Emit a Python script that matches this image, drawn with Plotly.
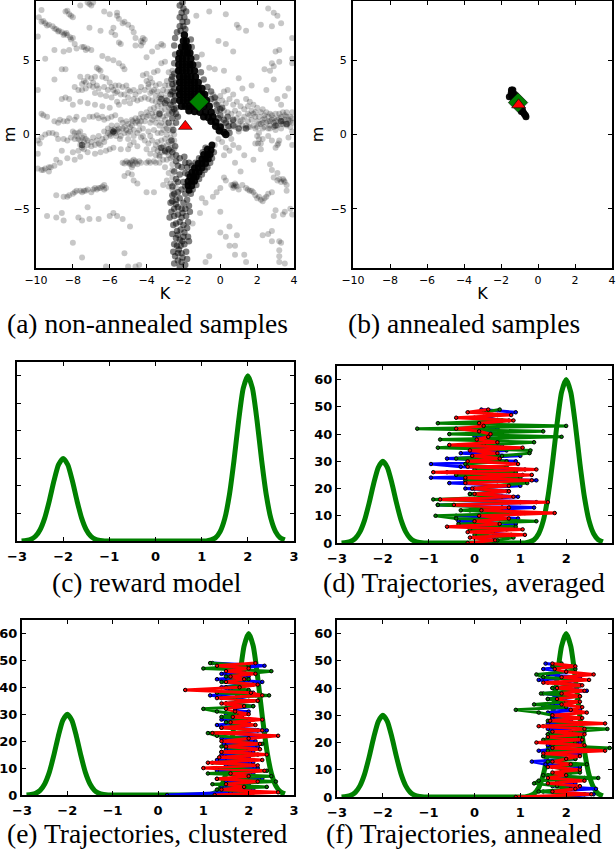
import plotly.graph_objects as go

# ---------- panel (a): sample clouds (K, m) ----------
chain_upper_left = [(-9.85,7.9),(-9.7,7.6),(-9.5,7.5),(-9.3,7.4),(-9.1,7.3),(-8.9,7.1),(-8.75,7.0),(-8.6,6.9),(-8.45,6.8),(-8.3,6.7),
 (-8.15,6.55),(-8.0,6.5),(-7.9,6.1),(-7.8,5.8),(-7.4,5.9),(-7.2,5.8),(-7.0,5.7),(-9.7,8.4),(-8.4,8.3),(-8.2,8.1),(-8.0,7.9),(-7.6,8.7),(-7.2,8.9),(-7.0,8.7),
 (-6.3,8.3),(-6.0,8.1),(-5.6,8.0),(-5.5,7.8),(-5.3,7.5),(-5.0,7.4),(-4.8,7.2),(-5.8,7.2),(-6.5,7.0),(-7.1,7.2),(-9.6,7.65),(-9.4,7.35),(-9.0,7.15),(-8.8,6.95),(-8.5,6.7),(-8.35,6.85),(-8.1,6.4),
 (-8.3,8.35),(-8.1,8.0),(-7.1,8.8),(-6.9,8.9),(-5.6,8.2),(-5.2,7.6),(-4.7,6.9),(-4.6,6.5),(-4.1,6.4),(-4.2,6.2),(-7.5,5.9),(-7.3,5.7),(-5.9,6.9),(-5.7,6.7),(-5.5,6.2),(-5.4,6.1)]
band_upper = [(-8.6,4.4),(-8.4,4.4),(-7.6,3.9),(-7.4,3.6),(-7.2,3.9),(-7.0,3.8),(-6.9,3.5),(-6.7,3.3),(-6.6,4.4),(-6.5,4.3),(-6.4,3.9),(-6.2,3.8),
 (-6.0,3.5),(-5.9,3.2),(-5.7,3.3),(-5.6,2.9),(-5.5,3.3),(-5.3,3.2),(-5.1,3.3),(-5.0,3.0),(-4.9,2.9),(-4.7,3.0),(-4.6,2.7),(-4.4,2.9),(-4.3,3.2),(-4.1,3.0),
 (-3.9,3.4),(-3.8,2.8),(-3.6,3.0),(-3.4,2.9),(-3.3,2.5),(-3.1,3.0),(-2.9,2.9),(-2.8,3.3),(-7.7,3.0),(-7.5,3.0),(-7.3,3.1),(-6.8,2.8),(-6.5,2.7),(-6.2,2.6),
 (-5.9,2.5),(-5.6,2.2),(-5.2,2.2),(-4.9,2.1),(-8.6,2.4),(-8.4,2.5),(-8.2,2.4),(-8.0,2.0),(-7.6,2.2),(-7.2,2.1),(-6.8,2.0),(-6.4,1.9),(-6.0,1.8),(-5.5,2.0),
 (-4.2,4.0),(-4.0,4.1),(-3.8,3.8),(-3.6,4.2),(-3.4,4.3),(-3.2,4.8),(-3.0,4.9),(-2.8,4.2),(-2.6,4.3),(-4.0,5.2),(-3.7,5.6),(-3.4,5.9),(-4.2,6.5),(-4.3,6.3),(-3.1,6.0),(-3.2,6.1),
 (-4.0,3.6),(-3.9,3.2),(-3.7,3.5),(-3.7,2.9),(-3.5,2.6),(-3.5,3.3),(-3.3,3.4),(-3.2,2.7),(-3.0,2.5),(-3.0,3.3),(-2.9,3.6),(-2.7,2.9),(-2.6,2.7),(-2.6,3.3),(-3.3,2.2),(-3.5,2.2),(-3.7,2.3),(-3.9,2.4),
 (-4.1,2.5),(-4.3,2.4),(-4.5,2.3),(-4.7,2.4),(-5.0,2.5),(-5.2,2.7),(-5.4,2.7),(-5.7,2.8),(-5.8,3.0),(-6.1,3.0),(-6.3,3.2),(-6.6,3.1),(-6.9,3.2),(-7.1,3.3),(-7.3,3.5),(-7.5,3.4),(-6.7,4.5),(-6.8,3.9)]
band_middle = [(-9.9,-0.4),(-9.8,-0.6),(-9.7,-0.2),(-9.1,0.1),(-8.9,0.0),(-8.8,-0.3),(-8.0,0.2),(-7.9,0.1),(-7.8,-0.1),(-7.7,-0.3),(-7.6,0.2),(-7.6,-0.7),(-7.5,-0.9),
 (-7.4,-0.5),(-7.3,-0.3),(-7.2,-0.7),(-7.0,-0.5),(-6.8,-0.7),(-6.6,-0.6),(-6.4,-0.3),(-6.2,-0.2),(-6.0,0.0),(-5.9,0.3),(-5.8,0.2),(-5.7,0.1),(-5.6,0.3),(-5.5,0.2),
 (-5.4,-0.1),(-5.3,0.4),(-5.2,0.5),(-5.0,0.1),(-4.9,0.5),(-4.8,0.6),(-4.6,0.8),(-4.5,0.9),(-4.4,1.1),(-4.2,1.2),(-4.0,1.5),(-3.8,1.7),(-3.6,1.8),(-3.4,1.9),(-3.2,2.0),
 (-3.0,1.7),(-2.8,1.4),(-9.7,1.4),(-9.6,1.3),(-9.4,1.2),(-9.0,0.9),(-8.8,0.8),(-8.5,0.9),(-8.2,1.1),(-7.8,1.2),(-7.4,1.0),(-7.1,1.2),(-6.9,1.2),(-6.6,1.1),(-6.3,1.0),
 (-5.9,1.2),(-5.4,1.0),(-5.1,0.9),(-4.8,1.0),(-3.7,1.0),(-3.5,0.8),(-3.3,0.6),(-3.1,0.3),(-2.9,0.0),(-2.7,-0.2),(-4.3,-0.2),(-4.1,-0.4),(-3.9,-0.6),(-3.7,-0.4),
 (-3.5,-0.7),(-3.3,-0.9),(-3.1,-0.8),(-2.9,-0.7),(-2.7,-0.9),(-2.5,-1.0),(-5.0,-0.3),(-4.7,-0.5),(-6.8,-1.3),(-7.2,-1.2),(-8.0,-1.2),(-8.3,-1.6),(-8.7,-1.9),(-9.0,-2.1),
 (-9.3,-2.2),(-9.6,-2.4),(-9.3,-2.5),(-5.8,-0.9),(-5.4,-1.0),(-5.0,-1.0),(-7.6,-1.5),(-7.9,-1.7),
 (-7.9,-0.3),(-7.7,0.1),(-7.5,-0.2),(-7.6,-0.4),(-7.4,-0.1),(-7.2,-0.4),(-7.0,-0.8),(-6.7,-0.4),(-6.5,-0.7),(-6.3,-0.5),(-6.1,0.1),(-5.95,-0.1),(-5.85,0.1),(-5.75,0.35),(-5.65,-0.1),(-5.5,0.4),(-5.45,-0.3),
 (-5.2,0.1),(-5.1,0.3),(-4.9,0.2),(-4.75,0.9),(-4.7,0.3),(-4.6,1.1),(-4.4,0.7),(-4.3,0.9),(-4.3,1.4),(-4.1,0.9),(-4.0,1.2),(-3.9,1.3),(-3.8,0.8),(-3.7,1.4),(-3.6,1.2),(-3.5,1.5),(-3.4,1.1),(-3.3,1.3),(-3.2,1.6),(-3.1,1.2),(-3.0,1.0),
 (-2.9,1.3),(-2.8,1.8),(-2.7,1.6),(-2.6,1.8),(-3.2,0.8),(-3.0,0.6),(-2.8,0.3),(-2.6,0.2),(-3.4,-0.5),(-3.2,-0.4),(-3.0,-0.3),(-2.8,-0.5),(-2.6,-0.6),(-3.6,-1.0),(-3.4,-1.1),(-3.2,-1.2),(-2.9,-1.2),(-4.5,-0.8),(-4.9,-0.7),(-4.4,0.3),(-4.2,0.4),(-3.9,0.2),(-3.6,0.3),
 (-8.7,1.0),(-8.3,0.9),(-7.9,1.0),(-6.7,1.3),(-6.4,1.2),(-6.1,1.1),(-5.7,1.3),(-9.5,0.0),(-9.3,0.1),(-8.5,-0.3),(-8.3,-0.4),(-8.1,-0.2),(-8.6,-1.1),(-8.9,-1.7),(-7.7,-1.1),(-7.4,-1.0),(-6.5,-1.2),(-6.2,-1.1),(-6.0,-1.0),(-9.9,-2.3),(-9.5,-2.3),
 (-6.9,-0.2),(-6.6,-0.1),(-6.3,0.2),(-6.1,0.4),(-5.9,0.6),(-5.6,0.6),(-5.3,0.8),(-5.0,0.7),(-4.7,-0.1),(-4.5,0.1),(-4.2,-0.1),(-3.8,-0.1),(-3.4,0.1),(-3.2,0.1),(-2.9,0.4),(-2.6,0.6),(-2.5,0.0),(-2.5,-0.4),(-3.3,-1.5),(-3.5,-1.4),(-3.8,-1.3),(-4.0,-1.0),(-2.6,-1.5),(-2.7,-1.1)]
chain_lower_left = [(-8.9,-4.1),(-8.5,-4.2),(-8.2,-4.1),(-8.0,-4.0),(-7.8,-3.8),(-7.6,-3.8),(-7.4,-3.8),(-7.2,-3.7),(-7.0,-3.9),(-6.8,-3.6),(-6.6,-3.6),(-6.4,-3.5),(-6.2,-3.6),
 (-8.6,-5.3),(-8.9,-5.6),(-9.4,-5.5),(-8.5,-5.8),(-7.5,-5.8),(-7.1,-5.7),(-6.6,-5.7),(-6.0,-5.5),(-5.8,-5.3),(-5.6,-5.5),(-7.7,-5.6),(-5.2,-2.8),(-5.0,-2.6),(-4.8,-2.7),(-4.7,-3.1),(-4.5,-3.3),(-4.0,-3.9),
 (-7.5,-3.9),(-7.3,-3.8),(-6.9,-3.7),(-6.7,-3.7),(-6.5,-3.6),(-6.3,-3.7),(-6.3,-3.4),(-7.9,-3.9),(-8.3,-4.2)]
chain_mid_left = [(-5.3,-1.9),(-5.1,-1.8),(-4.9,-1.9),(-4.8,-2.2),(-4.7,-1.7),(-4.6,-1.9),(-4.4,-1.8),(-4.3,-1.9),(-4.0,-1.9),(-3.8,-1.9),(-3.6,-1.8),(-3.3,-1.9),(-3.1,-1.7),(-2.9,-1.7),
 (-2.7,-1.6),(-3.0,-2.2),(-2.8,-2.6),(-2.6,-2.9),(-2.5,-3.3),(-2.4,-3.6),(-2.9,-3.1),(-3.1,-3.4),(-3.6,-3.9),(-3.3,-1.4),(-3.0,-1.2),(-2.8,-1.4),
 (-5.2,-1.95),(-5.0,-1.9),(-4.9,-2.0),(-4.8,-1.8),(-4.75,-2.05),(-4.6,-1.8),(-4.5,-2.0),(-3.9,-1.8),(-3.5,-1.9),(-2.6,-2.0),(-2.6,-2.4),(-2.7,-3.3),(-2.6,-3.7),(-2.8,-3.5)]
band_right = [(-0.2,2.4),(0.0,2.6),(0.2,2.9),(0.4,3.0),(0.7,2.7),(1.2,3.1),(1.4,2.4),(1.6,2.2),(1.8,2.0),(2.0,1.8),(2.2,1.5),(2.4,1.3),(2.6,1.2),(2.8,1.0),(3.0,1.4),(3.2,1.1),(3.4,1.5),
 (3.6,1.2),(3.8,0.9),(3.9,1.5),(1.0,0.7),(1.2,0.6),(1.4,0.6),(1.6,0.5),(1.8,0.6),(2.0,0.5),(2.2,0.7),(2.4,0.5),(2.6,0.4),(2.7,0.6),(2.9,0.5),(3.1,0.6),(3.3,0.4),(3.6,0.6),(3.8,0.5),
 (2.0,0.9),(2.1,0.1),(2.1,-0.3),(2.2,-0.6),(2.2,-1.0),(1.2,1.0),(1.5,1.4),(1.9,1.2),(2.3,1.0),(2.7,1.4),(3.1,2.4),(3.3,2.0),(3.5,2.6),(3.7,3.1),(2.5,3.0),(2.7,4.3),(2.9,4.6),(2.8,4.8),
 (3.2,4.9),(3.9,4.8),(3.9,5.1),(2.4,4.4),(2.9,3.7),(0.7,-0.7),(1.0,-0.9),(0.5,-1.1),(0.2,-1.4),(1.3,-1.4),(1.8,-1.7),(2.7,-2.0),(2.8,-2.4),(3.1,-2.6),(3.9,-0.7),(3.1,-0.7),(2.8,-0.4),
 (3.7,-0.2),(3.2,-0.4),(-0.1,-0.3),(0.1,-0.5),(-0.3,-0.7),
 (-0.4,2.7),(-0.3,2.2),(-0.1,2.0),(0.1,2.3),(0.3,2.1),(0.5,2.4),(0.7,2.0),(0.9,2.2),(1.1,1.9),(1.3,1.7),(1.5,1.9),(1.7,1.6),(1.9,1.5),(2.1,1.2),(2.3,1.7),(2.5,1.5),(2.6,0.9),(2.8,1.3),(3.0,0.9),(3.2,1.4),(3.4,0.9),(3.6,1.5),(3.8,1.2),(3.95,0.8),
 (0.5,0.8),(0.7,0.9),(0.9,1.1),(1.1,0.9),(1.3,1.2),(1.5,0.9),(1.7,1.0),(2.1,0.7),(2.3,0.8),(2.5,0.8),(2.7,0.9),(2.9,0.8),(3.1,1.0),(3.3,0.7),(3.5,1.0),(3.7,0.8),(3.9,1.1),(1.3,0.4),(1.5,0.5),(1.9,0.4),(2.3,0.4),(2.7,0.4),(3.0,0.3),(3.4,0.7),(3.9,0.2),
 (2.0,-0.1),(2.05,-0.6),(2.3,-0.3),(1.9,-0.6),(2.6,-0.1),(3.0,-0.9),(3.15,-0.6),
 (0.4,1.5),(0.6,1.4),(0.8,1.6),(1.0,1.4),(0.2,1.6),(0.0,0.9),(0.2,0.6),(0.5,0.4),(0.8,0.5),(1.0,0.2),(0.6,-0.3),(0.3,-0.9),(1.6,1.3),(1.8,1.4),(2.4,1.1),(2.9,1.1),(3.3,1.2),(3.5,1.3),(3.7,1.0)]
chain_lower_right = [(0.6,-3.4),(0.7,-3.6),(0.8,-3.3),(0.9,-3.5),(1.0,-3.7),(1.2,-3.4),(1.4,-3.6),(1.6,-3.8),(1.8,-3.9),(2.0,-4.3),(2.2,-4.4),(2.4,-4.3),(2.6,-4.0),(2.8,-3.9),
 (3.1,-3.1),(3.3,-3.2),(3.5,-3.2),(3.6,-3.8),(2.9,-2.9),(3.4,-3.0),(0.3,-3.1),(0.2,-2.9),(3.0,-5.1),(2.9,-5.5),(3.5,-5.2),(3.8,-5.0),(3.9,-5.4),(3.4,-5.4),(2.8,-6.5),(2.6,-6.7),(2.3,-6.8),
 (2.8,-7.2),(3.2,-7.2),(3.3,-7.3),(3.2,-7.8),(3.2,-8.2),(3.2,-8.6),(3.5,-8.7),(0.0,-6.6),(0.3,-6.9),(0.5,-6.2),(0.5,-7.5),(0.8,-7.5),(0.9,-6.8),(0.8,-8.1),(1.3,-8.1),(1.4,-8.6),(-0.8,-8.6),(-0.6,-8.2),
 (0.7,-3.4),(0.75,-3.5),(0.85,-3.4),(1.5,-3.7),(1.7,-3.8),(1.9,-4.1),(2.1,-4.2),(2.3,-4.5),(2.5,-4.2),(3.2,-3.0),(3.45,-3.1),(3.6,-3.4)]
scattered = [(-1.3,8.0),(-0.6,8.3),(0.3,8.1),(0.9,7.4),(1.0,7.2),(1.4,7.0),(2.2,7.4),(2.6,8.5),(2.9,8.2),(3.1,8.0),(2.8,7.3),(3.3,7.5),(3.9,6.5),(3.2,5.7),(3.0,5.6),(-0.1,6.3),(0.3,6.1),(0.7,5.6),
 (-1.0,5.4),(-0.6,4.5),(-0.3,4.4),(0.2,4.3),(1.0,3.8),(1.7,3.3),(-9.9,6.6),(-9.5,5.1),(-9.0,5.7),(-8.5,5.6),(-8.2,5.7),(-6.4,5.3),(-6.1,5.1),(-5.8,5.0),(-5.5,4.8),(-5.3,4.6),(-5.2,4.4),
 (-4.6,6.0),(-4.3,6.0),(-9.9,3.0),(-9.0,3.7),(-7.9,3.2),(-9.9,-1.3),(-9.7,-2.4),(-9.2,-2.2),(-4.9,-6.2),(-5.3,-5.7),(-8.0,-7.3),(-7.5,-8.3),(-5.2,-8.0),(-5.0,-8.9),(-4.6,-8.9),(-4.4,-8.8),
 (-6.2,-8.9),(-7.2,-4.9),(-1.0,-4.3),(-0.8,-4.6),(-0.4,-4.2),(-0.2,-3.9),(0.0,-3.6),(0.8,-1.9),(1.1,-2.5),(-1.1,-5.3),(-1.5,-6.0),(0.0,-5.2)]
halo_mid = [(-2.05,8.9),(-2.0,8.5),(-2.1,8.2),(-1.95,7.9),(-2.05,7.6),(-2.0,7.3),(-1.9,7.1),(-2.15,7.0),(-2.3,4.3),(-2.5,4.1),(-2.6,3.9),(-2.4,3.5),(-2.5,3.1),(-2.7,2.7),(-2.9,2.3),(-2.5,2.3),
 (-3.2,2.4),(-3.0,2.1),(-2.7,2.0),(-2.4,1.8),(-3.3,1.4),(-2.6,1.1),(-2.8,0.8),(-2.4,0.8),(-0.5,2.4),(-0.2,2.0),(0.1,1.8),(0.0,1.3),(0.4,1.2),(0.7,1.0),(0.3,0.8),(0.7,0.6),(1.0,0.4),(1.4,0.4),
 (3.0,0.6),(3.6,0.7),(3.3,0.9),(-7.5,-0.7),(-5.8,0.2),(-3.2,-0.9),(-3.0,-1.1),(-2.8,-1.0),(-2.6,-1.2),(-2.4,-1.4),(-2.4,-1.8),(-2.2,-1.6),(-2.3,-2.1),(-2.1,-2.2),(-2.2,-2.7),(-1.9,-1.9),(-2.3,-3.2),
 (-2.0,-3.2),(-2.5,-4.0),(-2.3,-3.9),(-2.1,-3.7),(-1.9,-4.0),(-2.6,-4.5),(-2.4,-4.4),(-2.2,-4.3),(-2.0,-4.6),(-1.8,-4.4),(-2.5,-5.0),(-2.3,-4.9),(-2.1,-5.0),(-1.9,-5.0),(-2.5,-5.5),(-2.3,-5.4),
 (-2.1,-5.6),(-1.85,-5.5),(-2.4,-6.0),(-2.2,-5.9),(-2.0,-6.1),(-2.35,-6.5),(-2.15,-6.4),(-1.95,-6.6),(-2.4,-7.0),(-2.2,-7.1),(-2.0,-6.9),(-2.35,-7.5),(-2.15,-7.5),(-1.95,-7.4),(-2.3,-8.0),(-2.1,-8.0),
 (-2.3,-8.5),(-2.1,-8.6),(-2.2,-8.9),(-1.9,-8.8),(-2.2,8.7),(-1.85,8.3),(-2.2,7.9),(-1.8,7.6),(-2.2,7.3),(-2.5,4.8),(-2.45,5.4),(-2.6,3.4),(-2.3,2.9),(-2.4,1.4),(-2.3,1.2),(-2.6,1.5),
 (-2.5,-2.5),(-2.4,-3.0),(-2.6,-3.5),(-1.9,-2.6),(-1.9,-3.5),(-2.55,-6.1),(-1.8,-6.3),(-2.5,-7.4),(-1.85,-7.9),(-2.45,-8.2),(-1.75,-5.9),(-2.4,-4.7),(-2.65,-5.2),
 (-1.95,-1.5),(-1.8,-2.2),(-1.75,-2.7),(-1.7,-1.9),(-1.55,-2.1),(-1.6,-4.0),(-1.5,-3.7),(-1.3,-3.4),(-1.15,-3.0),(-1.0,-2.7),(-0.85,-2.4),(-0.7,-2.2),(-0.55,-1.9),(-0.45,-1.6),(-0.35,-1.2),(-1.35,-1.9),(-1.15,-1.6),(-0.95,-1.2),(-0.8,-0.9),
 (-2.6,-4.1),(-2.7,-4.6),(-2.75,-5.6),(-1.7,-4.8),(-1.65,-5.2),(-2.6,-6.7),(-1.75,-6.9),(-2.55,-7.9),(-1.7,-7.2),(-2.5,-8.7),(-1.8,-8.4),(-2.05,-8.3),(-2.25,-7.75),(-2.05,-7.2),(-2.3,-6.75),(-2.05,-5.3),
 (-2.5,6.0),(-2.45,6.5),(-2.35,6.9),(-1.6,6.4),(-1.55,5.9),(-1.3,5.2),(-1.2,4.7),(-1.05,4.2),(-0.9,3.7),(-0.7,3.2),(-0.5,2.9),(-0.3,2.5),(-0.2,1.6),(0.0,1.7),(-0.1,1.1),(0.2,1.0),(0.45,0.55),(0.5,0.1),
 (-2.55,2.2),(-2.6,2.9),(-2.45,2.6),(-2.65,3.7),(-2.5,1.7),(-2.55,0.3),(-2.65,-0.4),(-2.45,-0.8)]
dense_top = [(-1.95,6.7),(-2.0,6.3),(-1.85,6.3),(-2.1,5.9),(-1.9,5.9),(-1.75,5.9),(-2.2,5.5),(-2.0,5.5),(-1.8,5.5),(-1.65,5.5),(-2.25,5.1),(-2.05,5.1),(-1.85,5.1),(-1.6,5.1),(-2.25,4.7),(-2.05,4.7),
 (-1.85,4.7),(-1.65,4.7),(-1.5,4.7),(-2.25,4.3),(-2.05,4.3),(-1.85,4.3),(-1.65,4.3),(-1.4,4.3),(-2.2,3.9),(-2.0,3.9),(-1.8,3.9),(-1.6,3.9),(-1.35,3.9),(-2.2,3.5),(-2.0,3.5),(-1.8,3.5),(-1.6,3.5),
 (-1.4,3.5),(-1.2,3.5),(-2.2,3.1),(-2.0,3.1),(-1.8,3.1),(-1.6,3.1),(-1.4,3.1),(-1.2,3.1),(-1.0,3.1),(-2.2,2.7),(-2.0,2.7),(-1.8,2.7),(-1.6,2.7),(-1.4,2.7),(-1.2,2.7),(-1.0,2.7),(-0.85,2.7),
 (-2.2,2.3),(-2.0,2.3),(-1.8,2.3),(-1.6,2.3),(-1.4,2.3),(-1.2,2.3),(-1.0,2.3),(-0.75,2.3),(-2.1,1.9),(-1.9,1.9),(-1.7,1.9),(-1.5,1.9),(-1.3,1.9),(-1.1,1.9),(-0.9,1.9),(-0.6,1.9),(-1.7,1.6),(-1.4,1.55),
 (-1.1,1.5),(-0.8,1.5),(-0.5,1.5),(-0.9,1.2),(-0.65,1.15),(-0.4,1.2),(-0.5,0.9),(-0.25,0.85),(-0.25,0.55),(0.0,0.5),(-0.05,0.25),(0.2,0.15),(0.3,0.0)]
dense_bottom = [(-0.45,-0.7),(-0.7,-1.0),(-0.5,-1.05),(-0.9,-1.35),(-0.7,-1.35),(-0.55,-1.35),(-1.0,-1.65),(-0.8,-1.65),(-0.65,-1.65),(-1.2,-1.95),(-1.0,-1.95),(-0.8,-1.95),(-1.4,-2.25),(-1.2,-2.25),(-1.0,-2.25),
 (-1.55,-2.55),(-1.35,-2.55),(-1.15,-2.55),(-1.65,-2.85),(-1.45,-2.85),(-1.3,-2.85),(-1.75,-3.15),(-1.55,-3.15),(-1.4,-3.15),(-1.75,-3.45),(-1.55,-3.45),(-1.7,-3.75)]
# best-fit and true parameter markers
best_a = (-1.15, 2.2)
true_a = (-1.9, 0.55)
# ---------- panel (b) ----------
annealed_samples = [(-1.44,3.0),(-1.36,3.0),(-1.45,2.8),(-1.35,2.8),(-1.25,2.7),(-1.42,2.6),(-1.3,2.55),(-1.55,2.55),(-1.2,2.4),(-1.3,2.3),(-1.15,2.2),(-1.1,2.0),(-1.0,1.9),(-0.95,1.75),(-0.85,1.7),
 (-0.9,1.55),(-0.8,1.5),(-0.75,1.4),(-0.68,1.3),(-0.65,1.2)]
best_b = (-1.08, 2.15)
true_b = (-1.05, 2.0)

# ---------- panels (c)-(f): two-peak reward curve ----------
curve_x = [-2.9,-2.8,-2.7,-2.6,-2.5,-2.4,-2.3,-2.2,-2.1,-2.0,-1.9,-1.8,-1.7,-1.6,-1.5,-1.4,-1.3,-1.2,-1.1,-1.0,-0.5,0.0,0.5,1.0,1.1,1.2,1.3,1.4,1.5,1.6,1.7,1.8,1.9,2.0,2.1,2.2,2.3,2.4,2.5,2.6,2.7,2.8]
curve_y = [0.0,0.2,0.6,1.7,4.1,8.3,14.6,21.8,27.7,30.0,27.7,21.8,14.6,8.3,4.1,1.7,0.6,0.2,0.0,0.0,0.0,0.0,0.0,0.0,0.0,0.4,1.2,3.4,8.1,16.7,29.2,43.6,55.4,60.0,55.4,43.6,29.2,16.7,8.1,3.4,1.2,0.4]

steps = list(range(50))
tick_text = ["<b>\u22123</b>","<b>\u22122</b>","<b>\u22121</b>","<b>0</b>","<b>1</b>","<b>2</b>","<b>3</b>"]
level_text = ["<b>0</b>","<b>10</b>","<b>20</b>","<b>30</b>","<b>40</b>","<b>50</b>","<b>60</b>"]
# ---------- panel (d) ----------
blue_d = [0.1,0.4,0.0,0.8,0.1,0.7,-0.1,0.9,-0.35,0.95,-0.4,1.0,-0.1,1.3,-0.8,1.35,-0.2,0.95,-0.1,0.75,-0.2,1.0,-0.55,1.35,-0.95,1.05,-0.6,1.1,-0.3,-0.95,0.9,-0.6,1.0,-0.3,0.7,-0.1,0.6,0.1,0.5,0.0,0.6,0.2,0.5,0.1,0.3,0.6,0.2,0.5,0.9,0.15]
green_d = [0.0,0.5,0.85,0.0,0.4,-0.1,0.9,-0.35,1.35,-0.4,-0.85,1.1,-0.3,0.6,-0.8,1.0,-0.9,0.6,-0.1,0.7,0.0,0.5,1.15,-0.2,1.0,-0.4,0.9,0.0,0.7,-0.2,0.7,-0.4,0.6,1.2,1.22,-0.8,0.2,1.3,-0.75,1.9,-0.55,1.5,-1.25,2.0,-0.8,0.75,0.0,0.4,0.2,0.55]
red_d = [-0.15,0.45,-0.1,1.1,-0.15,1.05,-0.6,0.55,0.0,0.75,0.1,1.75,0.15,0.75,-0.45,1.6,-0.75,0.85,0.0,0.75,-0.05,0.75,-0.2,1.25,-0.2,1.25,-0.9,1.35,-0.15,0.95,-0.15,0.55,-0.05,0.5,-0.1,1.05,-0.55,0.5,0.05,0.3,0.35,0.1,-0.4,0.2,0.1,0.85,-0.4,0.8,-0.15,0.3]
# ---------- panel (e) ----------
blue_e = [0.2,1.6,2.1,1.4,2.0,1.5,2.3,1.7,2.1,1.3,2.2,1.5,2.1,1.3,2.0,1.4,2.1,1.5,2.2,1.45,2.15,1.4,2.35,1.5,2.4,1.6,1.3,2.0,1.4,1.85,1.5,2.0,1.7,2.1,1.5,2.0,1.7,1.15,2.1,1.6,1.4,1.9,2.3,1.3,2.0,1.4,1.9,1.6,2.35,1.2]
green_e = [1.8,2.1,1.3,2.4,1.2,2.6,1.3,2.5,1.1,2.4,1.3,2.1,1.2,2.0,1.5,2.2,1.4,2.0,1.4,2.3,1.5,2.0,1.3,1.1,2.2,1.4,1.9,1.5,2.0,1.4,1.8,1.3,1.0,2.1,1.5,2.2,1.4,2.45,1.3,2.0,1.5,2.1,1.4,2.0,1.5,1.9,2.5,1.0,2.0,1.15]
red_e = [1.25,2.65,1.4,1.9,1.5,2.2,1.3,2.0,1.6,2.35,1.0,2.2,1.1,2.3,1.35,2.4,1.4,2.25,1.5,2.25,1.4,2.0,2.65,1.2,2.3,1.4,2.15,1.6,2.3,1.65,2.0,1.7,1.5,1.9,1.4,2.2,1.3,2.3,2.05,0.6,1.8,2.2,1.5,1.9,1.6,2.15,1.5,2.0,1.3,2.15]
# ---------- panel (f) ----------
blue_f = [1.9,2.6,1.5,2.65,1.7,2.2,1.8,2.4,1.6,2.1,1.9,2.3,1.55,1.25,2.2,1.5,2.3,1.4,2.0,1.6,2.3,1.55,2.0,1.6,2.4,1.6,2.2,1.6,2.1,1.7,2.0,1.6,2.3,1.5,1.7,2.2,1.6,2.0,1.5,2.45,1.7,2.3,2.0,1.4,2.3,1.6,2.0,1.5,2.1,1.55]
green_f = [1.5,2.4,1.4,2.1,1.8,1.3,1.4,2.7,1.5,2.3,2.0,1.7,2.45,1.6,2.2,1.5,2.0,1.6,2.95,1.7,2.2,1.5,2.3,1.6,2.1,2.9,1.5,2.2,1.6,2.3,1.7,1.4,0.9,2.0,1.3,2.0,1.6,2.3,1.45,2.2,1.7,2.3,1.6,2.3,1.5,1.35,2.0,2.2,1.7,1.9]
red_f = [0.9,2.55,1.7,2.2,2.3,1.6,2.4,1.6,2.0,1.7,2.3,1.6,2.1,1.7,2.0,2.3,1.5,2.85,1.7,2.4,1.35,2.35,1.6,2.4,1.7,2.4,1.4,2.85,1.65,2.35,1.7,2.45,2.1,2.35,1.9,2.3,1.8,2.3,1.9,2.4,1.8,2.35,1.5,2.5,1.9,2.6,2.0,1.75,2.2,1.7]

W, H = 616, 850
fig = go.Figure()
panels = {
    "a": dict(box=(36, 294, 1, 268), xr=[-10, 4], yr=[-9, 9], xt=[-10,-8,-6,-4,-2,0,2,4], yt=[-5,0,5]),
    "b": dict(box=(353, 612, 1, 268), xr=[-10, 4], yr=[-9, 9], xt=[-10,-8,-6,-4,-2,0,2,4], yt=[-5,0,5]),
    "c": dict(box=(17, 294, 362, 541), xr=[-3, 3], yr=[0, 65], xt=[-3,-2,-1,0,1,2,3], yt=[0,10,20,30,40,50,60]),
    "d": dict(box=(337, 612, 366, 543), xr=[-3, 3], yr=[0, 65], xt=[-3,-2,-1,0,1,2,3], yt=[0,10,20,30,40,50,60]),
    "e": dict(box=(22, 294, 620, 795), xr=[-3, 3], yr=[0, 65], xt=[-3,-2,-1,0,1,2,3], yt=[0,10,20,30,40,50,60]),
    "f": dict(box=(337, 612, 620, 797), xr=[-3, 3], yr=[0, 65], xt=[-3,-2,-1,0,1,2,3], yt=[0,10,20,30,40,50,60]),
}
layout = {}
for i, (name, p) in enumerate(panels.items(), 1):
    l, r, t, b = p["box"]
    bold = name not in "ab"
    tf = dict(family="DejaVu Sans", size=13 if bold else 11, color="black")
    common = dict(showgrid=False, zeroline=False, showline=True, mirror="allticks", linecolor="black", automargin=False,
                  linewidth=2, ticks="inside", ticklen=4, tickcolor="black", tickwidth=1, tickfont=tf, fixedrange=True)
    layout[f"xaxis{i}"] = dict(common, domain=[l/W, r/W], range=p["xr"], tickmode="array", tickvals=p["xt"],
                               anchor=f"y{i}", ticklabelstandoff=2 if bold else 1)
    layout[f"yaxis{i}"] = dict(common, domain=[1-b/H, 1-t/H], range=p["yr"], tickmode="array", tickvals=p["yt"],
                               anchor=f"x{i}", ticklabelstandoff=0 if bold else 2)
    if bold:
        layout[f"xaxis{i}"]["ticktext"] = tick_text
        layout[f"yaxis{i}"]["ticktext"] = level_text
    if name == "c":
        layout[f"yaxis{i}"]["showticklabels"] = False
    if not bold:
        layout[f"xaxis{i}"]["title"] = dict(text="K", font=dict(family="DejaVu Sans", size=16, color="black"), standoff=2)
        layout[f"yaxis{i}"]["title"] = dict(text="m", font=dict(family="DejaVu Sans", size=16, color="black"), standoff=3)

def cloud(pairs, opacity, size, xa, ya):
    fig.add_trace(go.Scatter(x=[q[0] for q in pairs], y=[q[1] for q in pairs], mode="markers", xaxis=xa, yaxis=ya,
                             marker=dict(color="black", size=size, opacity=opacity, line=dict(width=0)), showlegend=False))

def marker(pt, sym, color, size, xa, ya):
    fig.add_trace(go.Scatter(x=[pt[0]], y=[pt[1]], mode="markers", xaxis=xa, yaxis=ya, showlegend=False,
                             marker=dict(color=color, symbol=sym, size=size, line=dict(color="black", width=0.6))))

for grp in (chain_upper_left, band_upper, band_middle, chain_lower_left, chain_mid_left, band_right, chain_lower_right, scattered):
    cloud(grp, 0.22, 6, "x1", "y1")
cloud(halo_mid, 0.5, 6.5, "x1", "y1")
cloud(dense_top, 0.95, 7.5, "x1", "y1")
cloud(dense_bottom, 0.95, 7, "x1", "y1")
marker(best_a, "diamond", "green", 15, "x1", "y1")
marker(true_a, "triangle-up", "red", 12, "x1", "y1")

cloud(annealed_samples, 0.95, 7, "x2", "y2")
marker(best_b, "diamond", "green", 15, "x2", "y2")
marker(true_b, "triangle-up", "red", 12, "x2", "y2")

def curve(idx):
    fig.add_trace(go.Scatter(x=curve_x, y=curve_y, mode="lines", xaxis=f"x{idx}", yaxis=f"y{idx}", showlegend=False,
                             line=dict(color="green", width=5, shape="spline", smoothing=0.6)))

def traj(xs, color, idx):
    fig.add_trace(go.Scatter(x=xs, y=steps, mode="lines+markers", xaxis=f"x{idx}", yaxis=f"y{idx}", showlegend=False,
                             line=dict(color=color, width=3),
                             marker=dict(color=color, size=3.5, line=dict(color="black", width=1))))

curve(3)
for idx, series in ((4, (blue_d, green_d, red_d)), (5, (blue_e, green_e, red_e)), (6, (blue_f, green_f, red_f))):
    curve(idx)
    for xs, c in zip(series, ("blue", "green", "red")):
        traj(xs, c, idx)

captions = [("(a) non-annealed samples", 147, 324), ("(b) annealed samples", 464, 324),
            ("(c) reward model", 147, 582), ("(d) Trajectories, averaged", 464, 582),
            ("(e) Trajectories, clustered", 147, 833), ("(f) Trajectories, annealed", 464, 833)]
ann = [dict(text=t, x=x/W, y=1-y/H, xref="paper", yref="paper", showarrow=False, xanchor="center", yanchor="middle",
            font=dict(family="Liberation Serif", size=27.5, color="black")) for t, x, y in captions]

fig.update_layout(width=W, height=H, margin=dict(l=0, r=0, t=0, b=0), plot_bgcolor="white", paper_bgcolor="white",
                  showlegend=False, annotations=ann, **layout)
fig.write_html("out.html", config=dict(displayModeBar=False), post_script="document.body.style.margin='0';")
